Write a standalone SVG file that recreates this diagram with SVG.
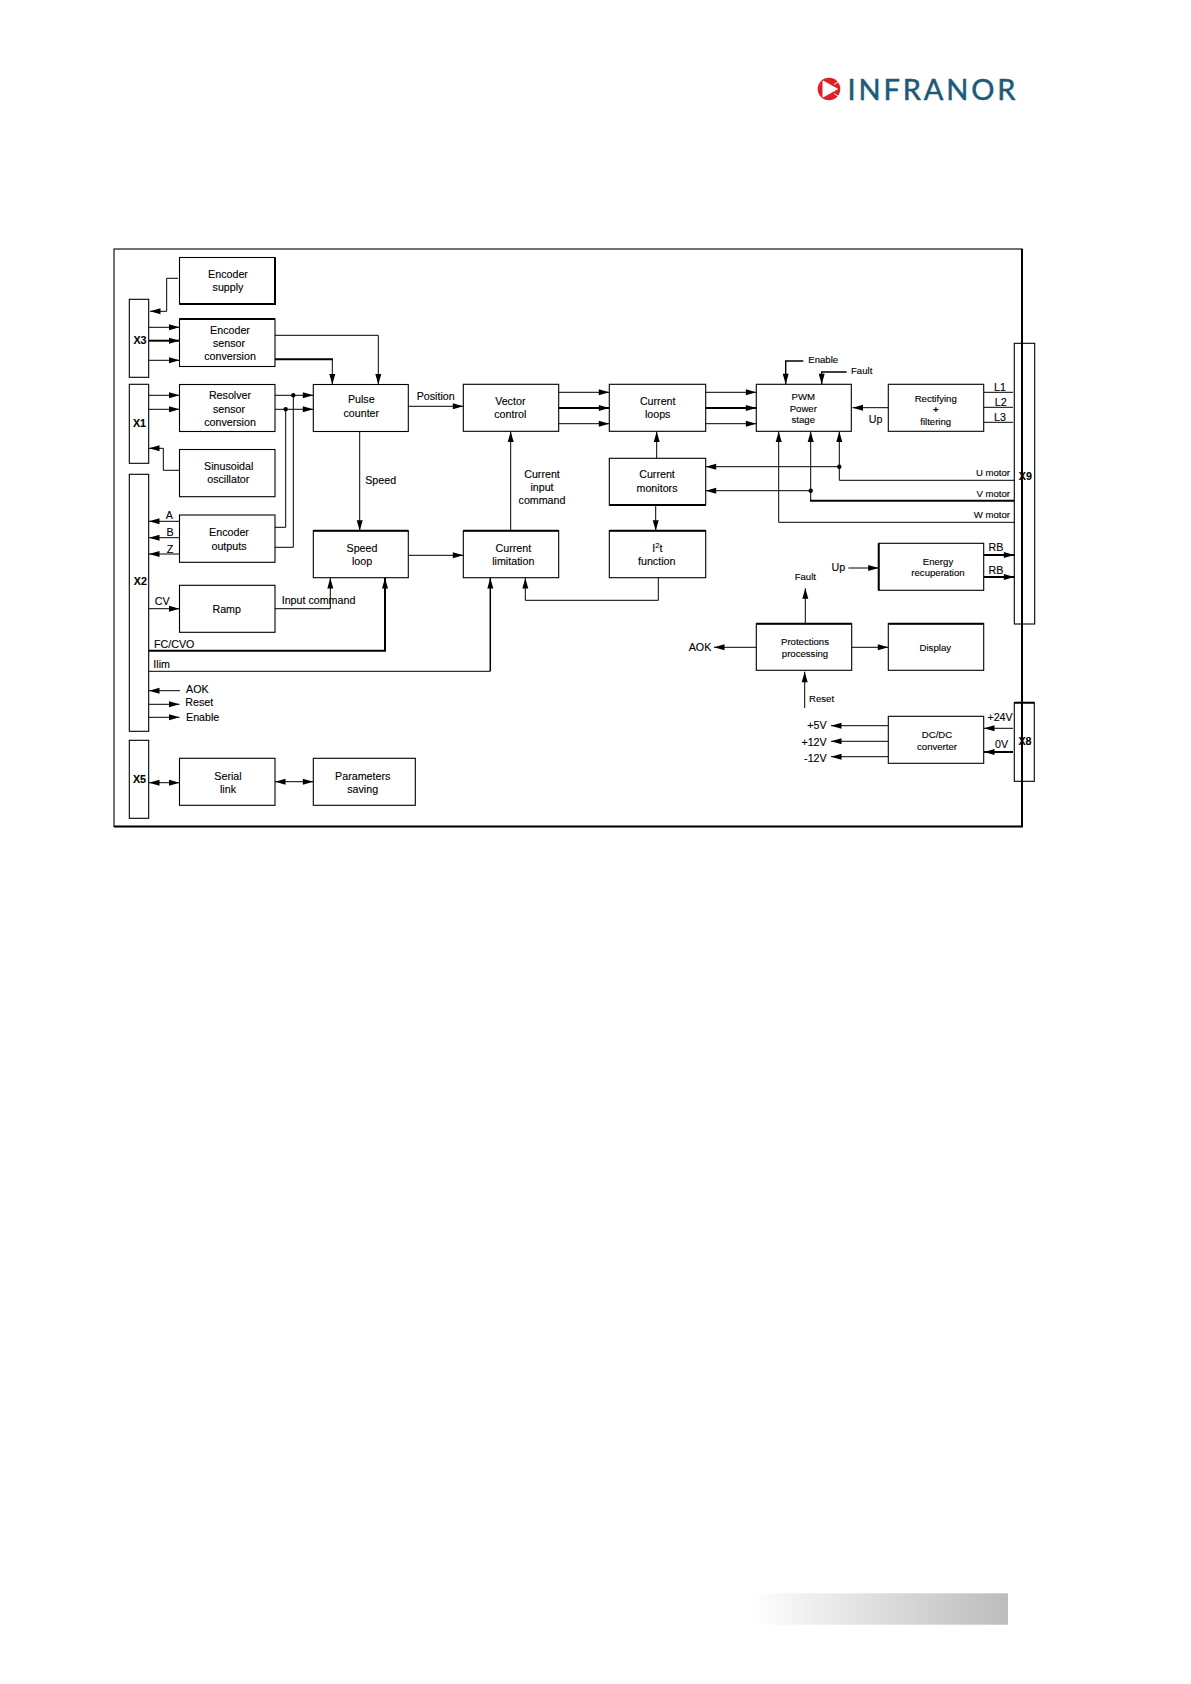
<svg xmlns="http://www.w3.org/2000/svg" width="1191" height="1684" viewBox="0 0 1191 1684">
<style>
text{font-family:"Liberation Sans",Arial,sans-serif;fill:#000;font-size:10.7px;stroke:#000;stroke-width:.12}
.s{font-size:9.6px}
.b{font-weight:bold}
.m{text-anchor:middle}
.e{text-anchor:end}
.box{fill:#fff;stroke:#000;stroke-width:1.1}
.conn{fill:none;stroke:#000;stroke-width:1}
.tk{stroke-width:2}
.ar{marker-end:url(#a)}
.edge{fill:none;stroke:#000;stroke-width:2}
</style>
<defs>
<marker id="a" markerUnits="userSpaceOnUse" markerWidth="11" markerHeight="7" refX="10.5" refY="3" orient="auto-start-reverse" overflow="visible"><path d="M0 0L10.5 3L0 6z" fill="#000"/></marker>
<linearGradient id="fg" x1="0" x2="1" y1="0" y2="0"><stop offset="0" stop-color="#fff"/><stop offset="1" stop-color="#bcbcbc"/></linearGradient>
</defs>
<rect width="1191" height="1684" fill="#fff"/>
<g id="logo">
<circle cx="829" cy="89" r="11.3" fill="#e02027"/>
<path d="M823 81L837.5 89L823 97z" fill="#fff" stroke="#fff" stroke-width="1" stroke-linejoin="round"/>
<path d="M834 84.5L841 80M834 93.5L841 98" stroke="#fff" stroke-width="1" fill="none"/>
<text x="847.5" y="100" textLength="168" lengthAdjust="spacing" style="font-family:Lato,sans-serif;font-size:29px;fill:#1c5a78;stroke:#1c5a78;stroke-width:.5">INFRANOR</text>
</g>
<rect id="footer-band" x="750" y="1593.3" width="258" height="31.4" fill="url(#fg)"/>
<g id="frame" fill="none" stroke="#000"><rect x="114" y="249" width="908" height="577.5" stroke-width="1.1"/><path d="M1022 249V826.5H114" stroke-width="2"/></g>
<g id="connectors" class="conn">
<path class="ar" d="M178 278.3H166.7V311.3H150"/>
<path class="ar" d="M149 327.3H179.5"/>
<path class="ar tk" d="M149 340.7H179.5"/>
<path class="ar" d="M149 360.3H179.5"/>
<path class="ar" d="M275 335.3H378.3V384.5"/>
<path class="tk" d="M275 359.3H333"/>
<path class="ar" d="M332.3 359.3V384.5"/>
<path class="ar" d="M149 395.3H179.5"/>
<path class="ar" d="M149 409.3H179.5"/>
<path class="ar" d="M275 395.3H313.3"/>
<path class="ar" d="M275 409.3H313.3"/>
<path d="M293.3 395.3V547.3H275"/>
<path d="M285.7 409.3V527.3H275"/>
<path class="ar" d="M179.5 470.3H163.3V448.3H149"/>
<path class="ar" d="M408.3 406.3H463.3"/>
<path class="ar" d="M359.7 431.5V530.7"/>
<path class="ar" d="M179.5 521.3H149"/>
<path class="ar" d="M179.5 537.7H149"/>
<path class="ar" d="M179.5 554H149"/>
<path class="ar" d="M149 608.7H179.5"/>
<path class="ar" d="M275 608.7H330.3V578"/>
<path class="ar tk" d="M149 650.7H385V578"/>
<path d="M149 671.3H490.3"/>
<path class="ar" style="stroke-width:1.5" d="M490.3 671.3V578"/>
<path class="ar" d="M180 690.7H149"/>
<path class="ar" d="M149 704.3H179.5"/>
<path class="ar" d="M149 717.3H179.5"/>
<path class="ar" style="marker-start:url(#a)" d="M149 782.7H179.5"/>
<path class="ar" style="marker-start:url(#a)" d="M275 781.7H313.3"/>
<path class="ar" d="M408.3 555.3H463.3"/>
<path class="ar" d="M510.7 530.7V431.5"/>
<path class="ar" d="M558.7 392.3H609.3"/>
<path class="ar tk" d="M558.7 408H609.3"/>
<path class="ar" d="M558.7 423.7H609.3"/>
<path class="ar" d="M705.7 392.3H756.3"/>
<path class="ar tk" d="M705.7 408H756.3"/>
<path class="ar" d="M705.7 423.7H756.3"/>
<path class="ar" d="M656.7 458.3V431.5"/>
<path class="ar" d="M655.7 505V530.7"/>
<path class="ar" d="M658.3 577.7V600.3H525.3V578"/>
<path class="ar" d="M839.3 466.7H705.7"/>
<path class="ar" d="M810.7 490.7H705.7"/>
<path class="ar" d="M1014.3 480.3H839.3V431.5"/>
<path class="tk" d="M1014.3 500.7H810"/>
<path class="ar" d="M810.7 500.7V431.5"/>
<path class="ar" d="M1014.3 522.3H778.7V431.5"/>
<path class="ar" style="stroke-width:1.4" d="M803.3 361H785.7V384.3"/>
<path class="ar" style="stroke-width:1.4" d="M846.7 372H821.7V384.3"/>
<path class="ar" d="M888.3 407.7H852.5"/>
<path d="M983.7 392.3H1013M983.7 407.3H1013M983.7 422.3H1013"/>
<path class="ar tk" d="M983.7 555H1014.3"/>
<path class="ar tk" d="M983.7 577H1014.3"/>
<path class="ar" d="M848.3 568H878.7"/>
<path class="ar" d="M805.3 623.7V588.3"/>
<path class="ar" d="M756.3 647.3H714"/>
<path class="ar" d="M851.7 647.3H888.3"/>
<path class="ar" d="M804.7 708V671.7"/>
<path class="ar" d="M888.3 725.7H831"/>
<path class="ar" d="M888.3 741.3H831"/>
<path class="ar" d="M888.3 756.7H831"/>
<path class="ar" d="M1013 728.3H984"/>
<path class="ar tk" d="M1013 752H984"/>
<g fill="#000" stroke="none">
<circle cx="293.3" cy="395.3" r="2.2"/><circle cx="285.7" cy="409.3" r="2.2"/><circle cx="839.3" cy="466.7" r="2.2"/><circle cx="810.7" cy="490.7" r="2.2"/>
</g>
</g>
<g id="x3"><rect class="box" x="129.3" y="299.3" width="19.4" height="78"/><text class="b m" x="140" y="344">X3</text></g>
<g id="x1"><rect class="box" x="129.3" y="384.3" width="19.4" height="79"/><text class="b m" x="139.5" y="427">X1</text></g>
<g id="x2"><rect class="box" x="129.3" y="474.3" width="19.4" height="257"/><text class="b m" x="140.3" y="585.3">X2</text></g>
<g id="x5"><rect class="box" x="129.3" y="740.3" width="19.4" height="78"/><text class="b m" x="139.5" y="782.7">X5</text></g>
<g id="x9"><rect x="1014.3" y="343.3" width="20.4" height="280.7" fill="none" stroke="#000" stroke-width="1.1"/><text class="b m" x="1025.3" y="479.7">X9</text></g>
<g id="x8"><rect x="1014.3" y="702.7" width="20" height="78.6" fill="none" stroke="#000" stroke-width="1.1"/><path class="edge" d="M1014.3 702.7H1034.3"/><text class="b m" x="1025" y="745">X8</text></g>
<g id="encoder-supply"><rect class="box" x="179.5" y="257.5" width="95.5" height="46.5"/><path class="edge" d="M275 257.5V304H179.5"/><text class="m" x="228" y="277.7">Encoder</text><text class="m" x="228" y="291">supply</text></g>
<g id="encoder-sensor"><rect class="box" x="179.5" y="319" width="95.5" height="47.5"/><path class="edge" d="M179.5 319H275"/><text class="m" x="230" y="333.7">Encoder</text><text class="m" x="229" y="347">sensor</text><text class="m" x="230" y="360.3">conversion</text></g>
<g id="resolver-sensor"><rect class="box" x="179.5" y="384.5" width="95.5" height="47"/><text class="m" x="230" y="399.3">Resolver</text><text class="m" x="229" y="412.7">sensor</text><text class="m" x="230" y="426">conversion</text></g>
<g id="sinusoidal-oscillator"><rect class="box" x="179.5" y="449.5" width="95.5" height="47.2"/><text class="m" x="228.7" y="470">Sinusoidal</text><text class="m" x="228.3" y="483.3">oscillator</text></g>
<g id="encoder-outputs"><rect class="box" x="179.5" y="515" width="95.5" height="47.3"/><text class="m" x="229" y="536.3">Encoder</text><text class="m" x="229" y="549.7">outputs</text></g>
<g id="ramp"><rect class="box" x="179.5" y="585.3" width="95.5" height="47"/><text class="m" x="226.7" y="613.3">Ramp</text></g>
<g id="serial-link"><rect class="box" x="179.5" y="758.3" width="95.5" height="47"/><text class="m" x="228" y="780">Serial</text><text class="m" x="228" y="793.3">link</text></g>
<g id="parameters-saving"><rect class="box" x="313.3" y="758.3" width="102" height="47"/><text class="m" x="362.7" y="780">Parameters</text><text class="m" x="362.7" y="793.3">saving</text></g>
<g id="pulse-counter"><rect class="box" x="313.3" y="384.5" width="95" height="47"/><text class="m" x="361.3" y="403.3">Pulse</text><text class="m" x="361.3" y="416.7">counter</text></g>
<g id="speed-loop"><rect class="box" x="313.3" y="530.7" width="95" height="47"/><path class="edge" d="M313.3 530.7H408.3"/><text class="m" x="362" y="551.7">Speed</text><text class="m" x="362" y="565">loop</text></g>
<g id="vector-control"><rect class="box" x="463.3" y="384.3" width="95.4" height="47"/><text class="m" x="510.3" y="404.7">Vector</text><text class="m" x="510.3" y="418">control</text></g>
<g id="current-limitation"><rect class="box" x="463.3" y="530.7" width="95.4" height="47"/><path class="edge" d="M463.3 530.7H558.7"/><text class="m" x="513.3" y="551.7">Current</text><text class="m" x="513.3" y="565">limitation</text></g>
<g id="current-loops"><rect class="box" x="609.3" y="384.3" width="96.4" height="47"/><text class="m" x="657.7" y="404.7">Current</text><text class="m" x="657.7" y="418">loops</text></g>
<g id="current-monitors"><rect class="box" x="609.3" y="458.3" width="96.4" height="46.7"/><path class="edge" d="M609.3 505H705.7"/><text class="m" x="657" y="478.3">Current</text><text class="m" x="657" y="491.7">monitors</text></g>
<g id="i2t-function"><rect class="box" x="609.3" y="530.7" width="96.4" height="47"/><path class="edge" d="M609.3 530.7H705.7"/><text class="m" x="657.3" y="551.7">I<tspan dy="-3.5" style="font-size:7.5px">2</tspan><tspan dy="3.5">t</tspan></text><text class="m" x="656.7" y="565">function</text></g>
<g id="pwm-power-stage"><rect class="box" x="756.3" y="384.3" width="95" height="47"/><text class="s m" x="803.3" y="400">PWM</text><text class="s m" x="803.3" y="411.7">Power</text><text class="s m" x="803.3" y="423.3">stage</text></g>
<g id="rectifying-filtering"><rect class="box" x="888.3" y="384.3" width="95.4" height="47"/><text class="s m" x="935.7" y="402">Rectifying</text><text class="s m b" x="935.7" y="413.3">+</text><text class="s m" x="935.7" y="425">filtering</text></g>
<g id="energy-recuperation"><rect class="box" x="878.7" y="543.3" width="105" height="47"/><path class="edge" d="M878.7 543.3V590.3"/><text class="s m" x="938" y="565">Energy</text><text class="s m" x="938" y="576.3">recuperation</text></g>
<g id="protections-processing"><rect class="box" x="756.3" y="623.7" width="95.4" height="46.6"/><path class="edge" d="M756.3 623.7H851.7"/><text class="s m" x="805" y="645.3">Protections</text><text class="s m" x="805" y="657.3">processing</text></g>
<g id="display"><rect class="box" x="888.3" y="623.7" width="95.4" height="46.6"/><path class="edge" d="M888.3 623.7H983.7"/><text class="s m" x="935.3" y="650.7">Display</text></g>
<g id="dc-dc-converter"><rect class="box" x="888.3" y="716.3" width="95.4" height="47"/><text class="s m" x="937" y="738.3">DC/DC</text><text class="s m" x="937" y="749.7">converter</text></g>
<g id="labels">
<text class="m" x="169.3" y="519">A</text><text class="m" x="170" y="536">B</text><text class="m" x="170" y="553">Z</text>
<text x="154.7" y="605.3">CV</text>
<text x="281.7" y="604.3">Input command</text>
<text x="154" y="648">FC/CVO</text>
<text x="153.3" y="667.7">Ilim</text>
<text x="186" y="692.7">AOK</text>
<text x="185.3" y="706">Reset</text>
<text x="186" y="720.7">Enable</text>
<text x="416.7" y="400">Position</text>
<text class="m" x="380.7" y="483.7">Speed</text>
<text class="m" x="542" y="477.7">Current</text><text class="m" x="542" y="491">input</text><text class="m" x="542" y="504.3">command</text>
<text class="s" x="808.3" y="362.7">Enable</text>
<text class="s" x="851" y="373.7">Fault</text>
<text class="m" x="875.7" y="423">Up</text>
<text x="994" y="390.7">L1</text><text x="994.7" y="405.7">L2</text><text x="994" y="420.7">L3</text>
<text class="s e" x="1010" y="476">U motor</text><text class="s e" x="1010" y="496.7">V motor</text><text class="s e" x="1010" y="518.3">W motor</text>
<text class="m" x="996" y="551">RB</text><text class="m" x="996" y="574.3">RB</text>
<text class="m" x="838.3" y="570.7">Up</text>
<text class="s m" x="805.3" y="580">Fault</text>
<text class="e" x="711.3" y="651.3">AOK</text>
<text class="s" x="809" y="701.7">Reset</text>
<text class="e" x="826.7" y="729.3">+5V</text><text class="e" x="826.7" y="745.7">+12V</text><text class="e" x="826.7" y="761.7">-12V</text>
<text class="e" x="1012.7" y="721">+24V</text>
<text x="995" y="748">0V</text>
</g>
</svg>
